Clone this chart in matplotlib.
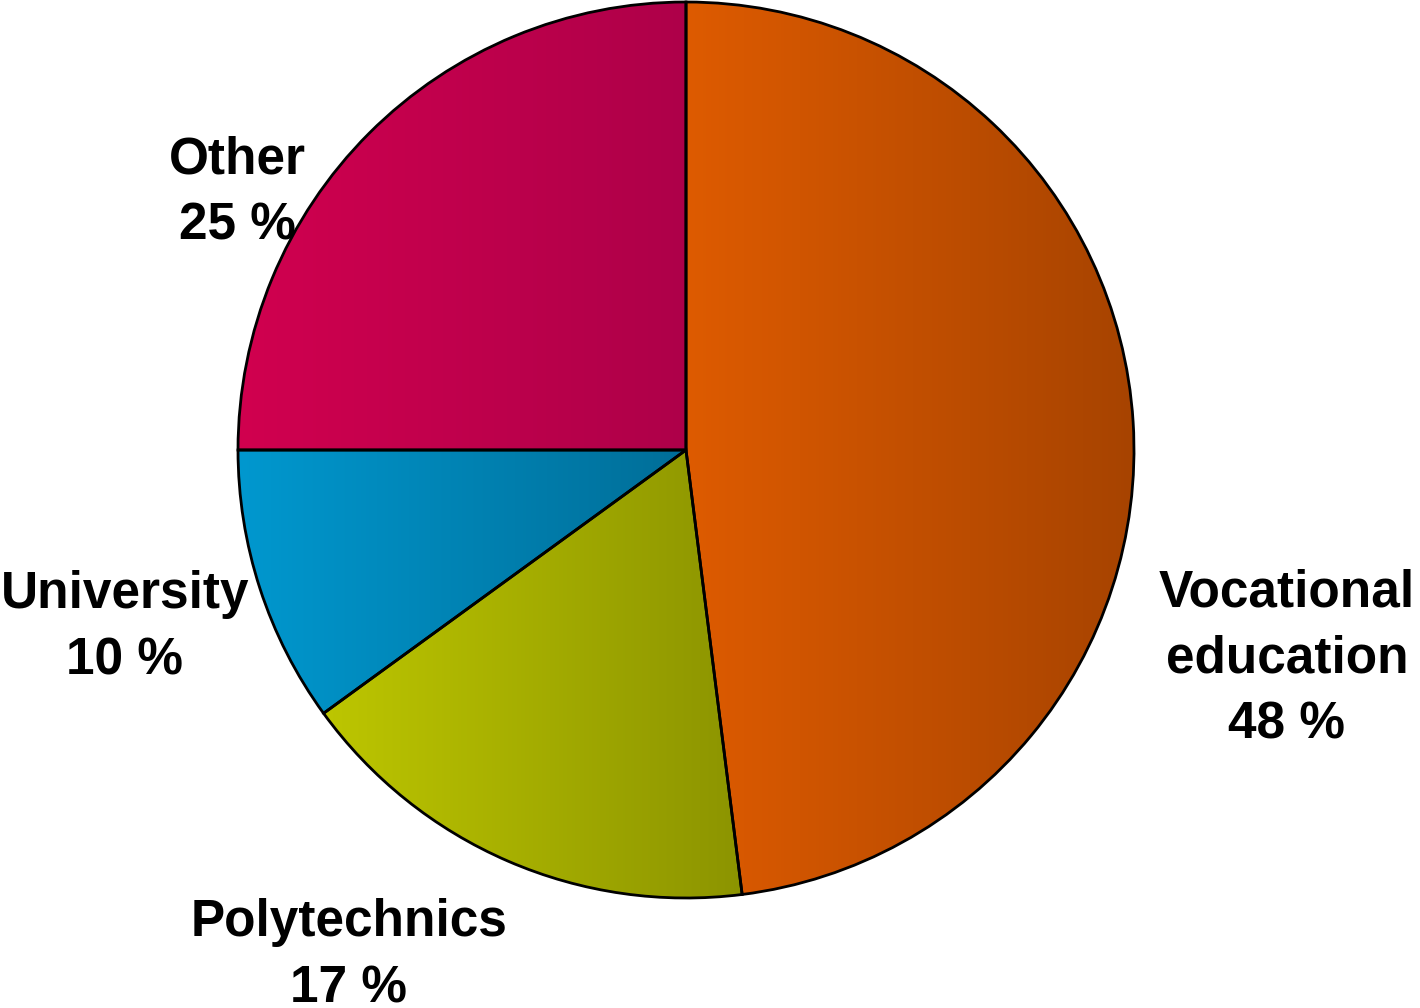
import numpy as np
import matplotlib
matplotlib.use("Agg")
import matplotlib.pyplot as plt
from matplotlib.colors import to_rgb

plt.rcParams['font.family'] = ['Liberation Sans', 'DejaVu Sans']

labels = ['Vocational\neducation', 'Polytechnics', 'University', 'Other']
shares = [48, 17, 10, 25]
# left (light) and right (dark) end of each slice's horizontal gradient
light = ['#DE5B00', '#BDC600', '#0098CF', '#D1004F']
dark = ['#A64300', '#8C9400', '#006E98', '#AE0049']
label_xy = [(1287, 349), (349, 52), (125, 380), (237, 815)]

W, H = 1420, 1008
fig = plt.figure(figsize=(W / 100, H / 100), dpi=100)
ax = fig.add_axes([0, 0, 1, 1])

wedges, _ = ax.pie(shares, center=(686, 558), radius=448, startangle=90,
                   counterclock=False, frame=True,
                   wedgeprops=dict(edgecolor='black', linewidth=2))

for w, c0, c1 in zip(wedges, light, dark):
    verts = w.get_patch_transform().transform(w.get_path().vertices)
    x0, x1 = verts[:, 0].min(), verts[:, 0].max()
    y0, y1 = verts[:, 1].min(), verts[:, 1].max()
    t = np.linspace(0, 1, 256)[None, :, None]
    grad = (1 - t) * np.array(to_rgb(c0)) + t * np.array(to_rgb(c1))
    grad = np.repeat(grad, 2, axis=0)
    im = ax.imshow(grad, extent=(x0, x1, y0, y1), aspect='auto',
                   origin='lower', zorder=1, interpolation='bilinear')
    im.set_clip_path(w)
    w.set_facecolor('none')
    w.set_zorder(2)

for (x, y), lab, s in zip(label_xy, labels, shares):
    ax.text(x, y, f'{lab}\n{s} %', ha='center', va='center', fontsize=37,
            fontweight='bold', linespacing=1.45, zorder=3)

ax.set_xlim(0, W)
ax.set_ylim(0, H)
ax.axis('off')
fig.savefig('out.png', dpi=100)
